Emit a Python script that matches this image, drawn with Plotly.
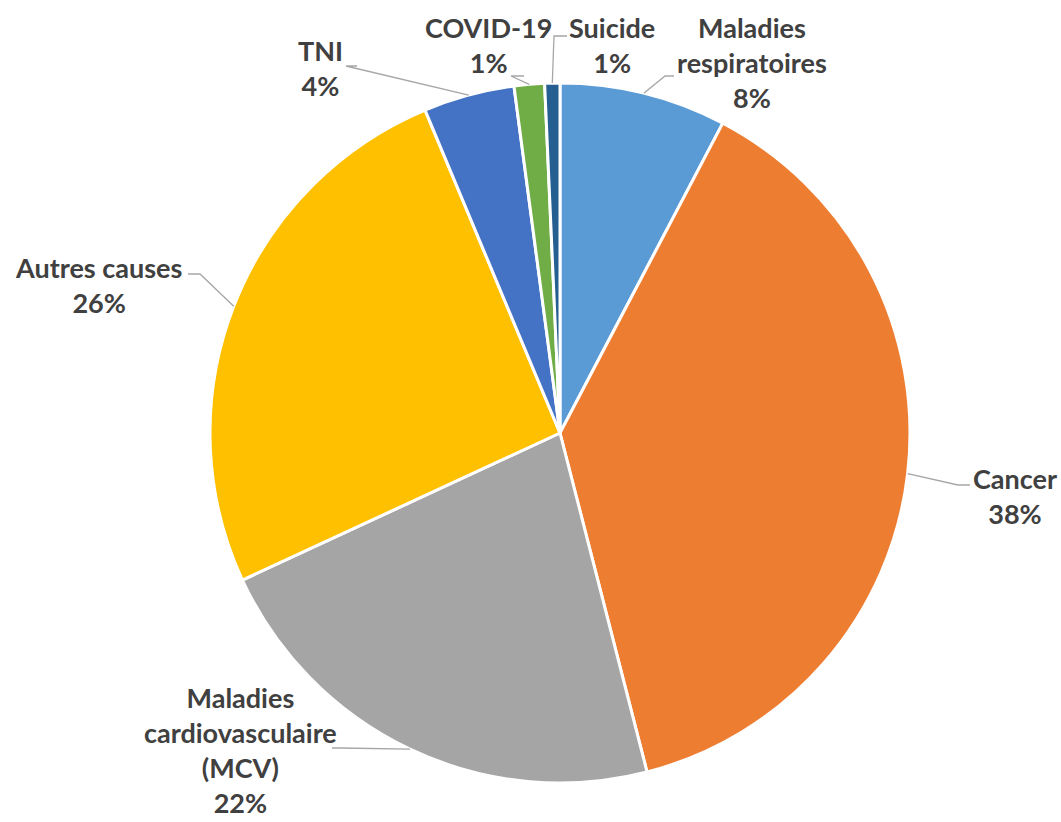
import math
import plotly.graph_objects as go

# ---- data ----
categories = ["Maladies<br>respiratoires", "Cancer", "Maladies<br>cardiovasculaire<br>(MCV)",
              "Autres causes", "TNI", "COVID-19", "Suicide"]
values = [7.7, 38.3, 22.1, 25.6, 4.2, 1.4, 0.7]
colors = ["#5B9BD5", "#ED7D31", "#A5A5A5", "#FFC000", "#4472C4", "#70AD47", "#255E91"]

# ---- layout constants (pixels) ----
W, H = 1061, 822
CX, CY, R = 560, 433, 350
# label text centre, leader start (near label), elbow
label_pos = [(752, 62), (1015, 496), (240, 750), (98, 285), (320, 68), (488, 45), (612, 45)]
leader_start = [(674, 76), (970, 485), (332, 748), (188, 274), (357, 66), (524, 76), (567, 36)]
leader_elbow = [(665, 76), (958, 485), (340, 748), (200, 274), (346, 66), (511, 76), (554, 36)]

def px(x):
    return x / W

def py(y):
    return 1 - y / H

fig = go.Figure()
fig.add_trace(go.Pie(
    labels=categories, values=values, sort=False, direction="clockwise", rotation=0,
    marker=dict(colors=colors, line=dict(color="white", width=3)),
    textinfo="none", hoverinfo="label+percent",
    domain=dict(x=[px(CX - R), px(CX + R)], y=[py(CY + R), py(CY - R)]),
    showlegend=False,
))

total = sum(values)
cum = 0.0
shapes, annotations = [], []
for i, v in enumerate(values):
    mid = (cum + v / 2) / total
    cum += v
    th = 2 * math.pi * mid
    ex, ey = CX + R * math.sin(th), CY - R * math.cos(th)
    (sx, sy), (bx, by) = leader_start[i], leader_elbow[i]
    pts = [(sx, sy), (bx, by), (ex, ey)]
    path = "M " + " L ".join(f"{px(a)},{py(b)}" for a, b in pts)
    shapes.append(dict(type="path", xref="paper", yref="paper", path=path,
                       line=dict(color="#A6A6A6", width=1.3)))
    pct = round(v / total * 100)
    lx, ly = label_pos[i]
    annotations.append(dict(
        x=px(lx), y=py(ly), xref="paper", yref="paper", showarrow=False,
        text=f"<b>{categories[i]}<br>{pct}%</b>", align="center",
        xanchor="center", yanchor="middle",
        font=dict(family="Lato, Carlito, sans-serif", size=27, color="#404040"),
    ))

fig.update_layout(
    width=W, height=H, margin=dict(l=0, r=0, t=0, b=0),
    paper_bgcolor="white", plot_bgcolor="white",
    shapes=shapes, annotations=annotations,
)
fig.write_html("out.html", config={"displayModeBar": False},
               post_script="document.body.style.margin='0';document.body.style.overflow='hidden';")
